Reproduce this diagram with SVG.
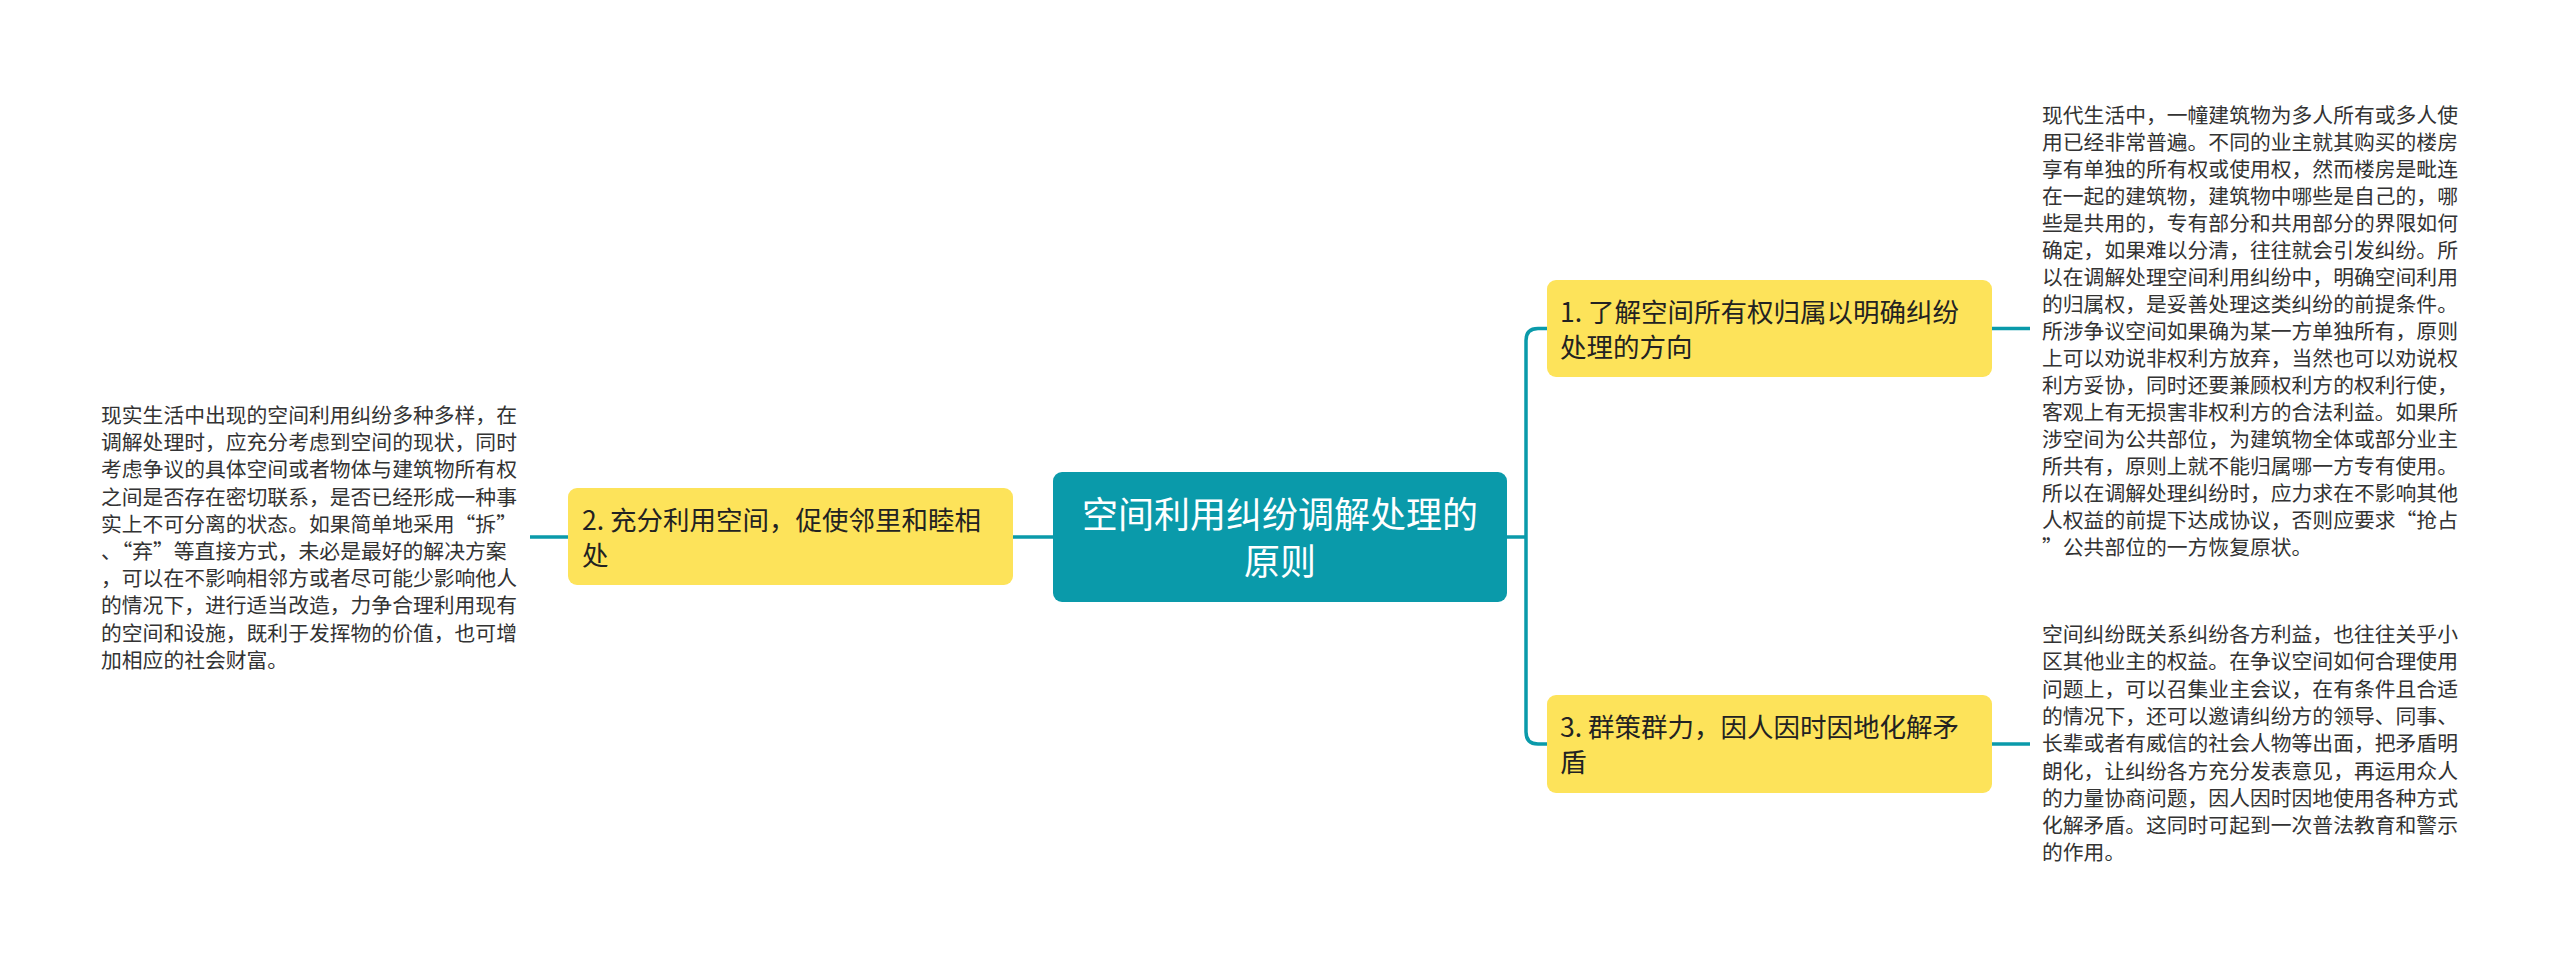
<svg xmlns="http://www.w3.org/2000/svg" width="2560" height="966" viewBox="0 0 2560 966">
<style>
.bg{fill:#ffffff}
.root rect{fill:#0A9AAA}
.root text{fill:#ffffff;font-family:"Noto Sans CJK SC","Noto Sans",sans-serif;font-size:36px;text-anchor:middle}
.sub rect{fill:#FDE35A}
.sub text{fill:#222222;font-family:"Noto Sans CJK SC","Noto Sans",sans-serif;font-size:26.5px}
.leaf text{fill:#333333;font-family:"Noto Sans CJK SC","Noto Sans",sans-serif;font-size:20.8px}
.links path{fill:none;stroke:#0A9AAA;stroke-width:3.5}
</style>
<rect class="bg" x="0" y="0" width="2560" height="966"/>
<g class="links">
<path d="M1507,537 H1526"/>
<path d="M1547,328.5 H1538 Q1526,328.5 1526,340.5 V732 Q1526,744 1538,744 H1547"/>
<path d="M1053,537 H1013"/>
<path d="M568,537 H530"/>
<path d="M1992,328.5 H2030"/>
<path d="M1992,744 H2030"/>
</g>
<g id="root" class="root">
<rect x="1053" y="472" width="454" height="130" rx="9"/>
<text><tspan x="1280" y="528">空间利用纠纷调解处理的</tspan><tspan x="1280" y="575">原则</tspan></text>
</g>
<g id="n1" class="sub">
<rect x="1547" y="280" width="445" height="97" rx="9"/>
<text><tspan x="1560" y="322">1. 了解空间所有权归属以明确纠纷</tspan><tspan x="1560" y="357">处理的方向</tspan></text>
</g>
<g id="n2" class="sub">
<rect x="568" y="488" width="445" height="97" rx="9"/>
<text><tspan x="582" y="530">2. 充分利用空间，促使邻里和睦相</tspan><tspan x="582" y="565">处</tspan></text>
</g>
<g id="n3" class="sub">
<rect x="1547" y="695" width="445" height="98" rx="9"/>
<text><tspan x="1560" y="737">3. 群策群力，因人因时因地化解矛</tspan><tspan x="1560" y="772">盾</tspan></text>
</g>
<g id="t1" class="leaf">
<text>
<tspan x="2042" y="123">现代生活中，一幢建筑物为多人所有或多人使</tspan>
<tspan x="2042" dy="27">用已经非常普遍。不同的业主就其购买的楼房</tspan>
<tspan x="2042" dy="27">享有单独的所有权或使用权，然而楼房是毗连</tspan>
<tspan x="2042" dy="27">在一起的建筑物，建筑物中哪些是自己的，哪</tspan>
<tspan x="2042" dy="27">些是共用的，专有部分和共用部分的界限如何</tspan>
<tspan x="2042" dy="27">确定，如果难以分清，往往就会引发纠纷。所</tspan>
<tspan x="2042" dy="27">以在调解处理空间利用纠纷中，明确空间利用</tspan>
<tspan x="2042" dy="27">的归属权，是妥善处理这类纠纷的前提条件。</tspan>
<tspan x="2042" dy="27">所涉争议空间如果确为某一方单独所有，原则</tspan>
<tspan x="2042" dy="27">上可以劝说非权利方放弃，当然也可以劝说权</tspan>
<tspan x="2042" dy="27">利方妥协，同时还要兼顾权利方的权利行使，</tspan>
<tspan x="2042" dy="27">客观上有无损害非权利方的合法利益。如果所</tspan>
<tspan x="2042" dy="27">涉空间为公共部位，为建筑物全体或部分业主</tspan>
<tspan x="2042" dy="27">所共有，原则上就不能归属哪一方专有使用。</tspan>
<tspan x="2042" dy="27">所以在调解处理纠纷时，应力求在不影响其他</tspan>
<tspan x="2042" dy="27">人权益的前提下达成协议，否则应要求“抢占</tspan>
<tspan x="2042" dy="27">”公共部位的一方恢复原状。</tspan>
</text>
</g>
<g id="t2" class="leaf">
<text>
<tspan x="101" y="423">现实生活中出现的空间利用纠纷多种多样，在</tspan>
<tspan x="101" dy="27.2">调解处理时，应充分考虑到空间的现状，同时</tspan>
<tspan x="101" dy="27.2">考虑争议的具体空间或者物体与建筑物所有权</tspan>
<tspan x="101" dy="27.2">之间是否存在密切联系，是否已经形成一种事</tspan>
<tspan x="101" dy="27.2">实上不可分离的状态。如果简单地采用“拆”</tspan>
<tspan x="101" dy="27.2">、“弃”等直接方式，未必是最好的解决方案</tspan>
<tspan x="101" dy="27.2">，可以在不影响相邻方或者尽可能少影响他人</tspan>
<tspan x="101" dy="27.2">的情况下，进行适当改造，力争合理利用现有</tspan>
<tspan x="101" dy="27.2">的空间和设施，既利于发挥物的价值，也可增</tspan>
<tspan x="101" dy="27.2">加相应的社会财富。</tspan>
</text>
</g>
<g id="t3" class="leaf">
<text>
<tspan x="2042" y="642">空间纠纷既关系纠纷各方利益，也往往关乎小</tspan>
<tspan x="2042" dy="27.3">区其他业主的权益。在争议空间如何合理使用</tspan>
<tspan x="2042" dy="27.3">问题上，可以召集业主会议，在有条件且合适</tspan>
<tspan x="2042" dy="27.3">的情况下，还可以邀请纠纷方的领导、同事、</tspan>
<tspan x="2042" dy="27.3">长辈或者有威信的社会人物等出面，把矛盾明</tspan>
<tspan x="2042" dy="27.3">朗化，让纠纷各方充分发表意见，再运用众人</tspan>
<tspan x="2042" dy="27.3">的力量协商问题，因人因时因地使用各种方式</tspan>
<tspan x="2042" dy="27.3">化解矛盾。这同时可起到一次普法教育和警示</tspan>
<tspan x="2042" dy="27.3">的作用。</tspan>
</text>
</g>
</svg>
